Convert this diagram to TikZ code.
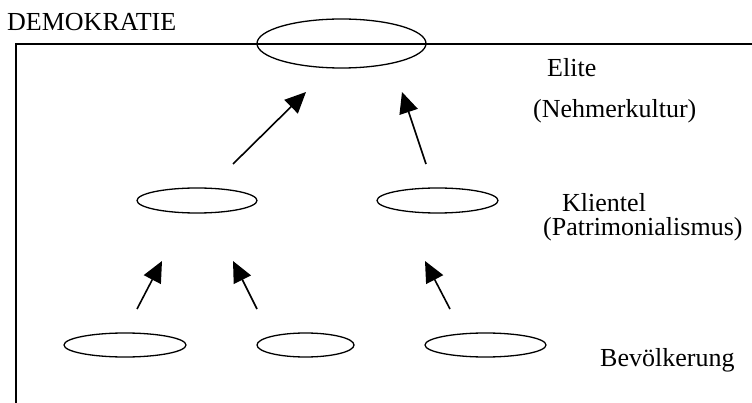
\documentclass[tikz,border=0pt]{standalone}
\usepackage{fontspec}
\setmainfont{Liberation Serif}
\usetikzlibrary{shapes.geometric,arrows.meta}

\begin{document}
\begin{tikzpicture}[x=1pt,y=-1pt,
  oval/.style={ellipse,draw,line width=1.3pt,inner sep=0pt},
  beschr/.style={anchor=base west,inner sep=0pt,font=\fontsize{26}{30}\selectfont},
  pfeil/.style={-{Triangle[length=21pt,width=19pt]},line width=1.6pt}]
	\useasboundingbox (0,0) rectangle (752,403);
	\draw[line width=1.5pt] (752,44) -- (16,44) -- (16,403);
	\node[oval,minimum width=169pt,minimum height=49pt] (elite) at (341.5,43.5) {};
	\node[oval,minimum width=120pt,minimum height=25pt] (klientel1) at (197,200.5) {};
	\node[oval,minimum width=121pt,minimum height=25pt] (klientel2) at (437.5,200.5) {};
	\node[oval,minimum width=122pt,minimum height=24pt] (volk1) at (125,345) {};
	\node[oval,minimum width=97pt,minimum height=24pt] (volk2) at (305.5,345) {};
	\node[oval,minimum width=121pt,minimum height=24pt] (volk3) at (485.5,345) {};
	\coordinate (k1fuss) at (233,164);
	\coordinate (k1spitze) at (306,92);
	\coordinate (k2fuss) at (426,164);
	\coordinate (k2spitze) at (402,92);
	\coordinate (v1fuss) at (137,309);
	\coordinate (v1spitze) at (162,261);
	\coordinate (v2fuss) at (257,309);
	\coordinate (v2spitze) at (233,261);
	\coordinate (v3fuss) at (450,309);
	\coordinate (v3spitze) at (425,261);
	\draw[pfeil] (k1fuss) -- (k1spitze);
	\draw[pfeil] (k2fuss) -- (k2spitze);
	\draw[pfeil] (v1fuss) -- (v1spitze);
	\draw[pfeil] (v2fuss) -- (v2spitze);
	\draw[pfeil] (v3fuss) -- (v3spitze);
	\node[beschr] (demokratie) at (7,31) {DEMOKRATIE};
	\node[beschr] (elitetext) at (547,77) {Elite};
	\node[beschr] (nehmer) at (533,118) {(Nehmerkultur)};
	\node[beschr] (klienteltext) at (562,212) {Klientel};
	\node[beschr] (patri) at (543,236) {(Patrimonialismus)};
	\node[beschr] (bevoelkerung) at (600,366) {Bevölkerung};
\end{tikzpicture}
\end{document}
